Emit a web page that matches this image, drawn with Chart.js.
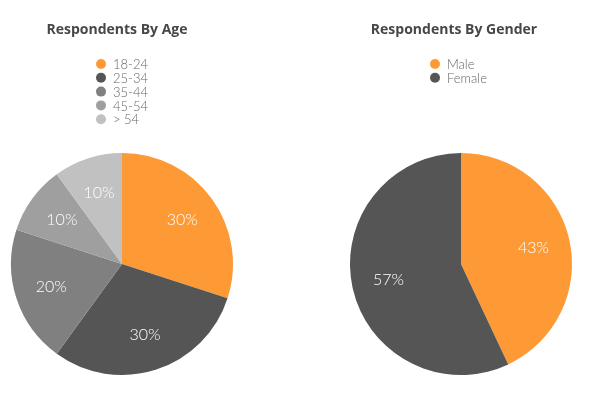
<!DOCTYPE html>
<html>
<head>
<meta charset="utf-8">
<script src="https://cdn.jsdelivr.net/npm/chart.js@4/dist/chart.umd.min.js"></script>
<style>
  html, body { margin: 0; padding: 0; background: #fff; }
  body { width: 590px; height: 398px; position: relative; overflow: hidden; }
  .box { position: absolute; top: 0; height: 398px; }
  #ageBox { left: 0; width: 245px; }
  #genderBox { left: 340px; width: 250px; }
</style>
</head>
<body>
<div class="box" id="ageBox"><canvas id="ageChart"></canvas></div>
<div class="box" id="genderBox"><canvas id="genderChart"></canvas></div>
<script>
var ageLabels = ["18-24", "25-34", "35-44", "45-54", "> 54"];
var ageValues = [30, 30, 20, 10, 10];
var ageColors = ["#fe9a35", "#555555", "#808080", "#9f9f9f", "#c1c1c1"];

var genderLabels = ["Male", "Female"];
var genderValues = [43, 57];
var genderColors = ["#fe9a35", "#555555"];

var fontFamily = "Lato, 'Open Sans', sans-serif";

// draws title, stacked legend and the % labels inside each slice
var pieDecor = {
  id: 'pieDecor',
  afterDraw: function(chart, args, opts) {
    var ctx = chart.ctx;
    ctx.save();

    // title
    ctx.fillStyle = '#474747';
    ctx.font = "bold 14px 'Open Sans', sans-serif";
    ctx.textAlign = 'center';
    ctx.textBaseline = 'middle';
    ctx.fillText(opts.title, opts.titleX, 30);

    // legend
    var ds = chart.data.datasets[0];
    ctx.font = "300 13px " + fontFamily;
    ctx.textAlign = 'left';
    chart.data.labels.forEach(function(lbl, i) {
      var y = 64 + i * 13.8;
      ctx.fillStyle = ds.backgroundColor[i];
      ctx.beginPath();
      ctx.arc(opts.legendX, y, 5, 0, Math.PI * 2);
      ctx.fill();
      ctx.fillStyle = '#666';
      ctx.fillText(lbl, opts.legendX + 12, y + 1);
    });

    // slice labels
    var meta = chart.getDatasetMeta(0);
    ctx.font = "300 16px " + fontFamily;
    ctx.fillStyle = '#fff';
    ctx.textAlign = 'center';
    meta.data.forEach(function(arc, i) {
      var p = arc.getProps(['x', 'y', 'startAngle', 'endAngle', 'outerRadius'], true);
      var mid = (p.startAngle + p.endAngle) / 2;
      var r = p.outerRadius * 0.67;
      ctx.fillText(ds.data[i] + '%', p.x + Math.cos(mid) * r, p.y + Math.sin(mid) * r);
    });
    ctx.restore();
  }
};

function makePie(id, labels, values, colors, padding, decor) {
  return new Chart(document.getElementById(id), {
    type: 'pie',
    data: {
      labels: labels,
      datasets: [{
        data: values,
        backgroundColor: colors,
        borderWidth: 0
      }]
    },
    options: {
      responsive: true,
      maintainAspectRatio: false,
      animation: false,
      layout: { padding: padding },
      plugins: {
        legend: { display: false },
        tooltip: { enabled: false },
        pieDecor: decor
      }
    },
    plugins: [pieDecor]
  });
}

makePie('ageChart', ageLabels, ageValues, ageColors,
  { top: 153, bottom: 23, left: 11, right: 12 },
  { title: 'Respondents By Age', titleX: 117, legendX: 101 });

makePie('genderChart', genderLabels, genderValues, genderColors,
  { top: 153, bottom: 23, left: 10, right: 18 },
  { title: 'Respondents By Gender', titleX: 114, legendX: 95 });
</script>
</body>
</html>
